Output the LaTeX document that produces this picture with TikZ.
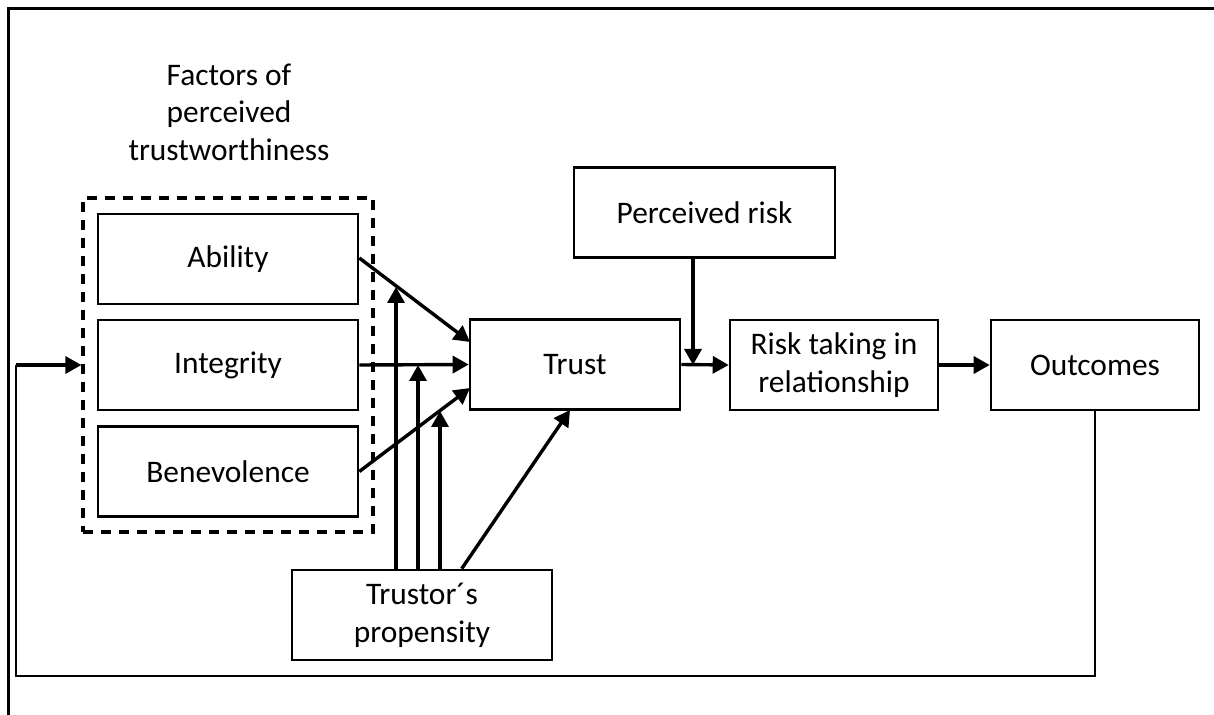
\documentclass[tikz,border=0pt]{standalone}
\usepackage{fontspec}
\setmainfont{Carlito}
\usetikzlibrary{arrows.meta,calc}
\begin{document}
\begin{tikzpicture}[x=0.5pt,y=-0.5pt,
  every node/.style={font=\fontsize{15.7}{19}\selectfont, align=center, inner sep=0pt},
  box/.style={draw, line width=1.3pt, minimum width=#1},
  box/.default=130pt,
  tall/.style={minimum height=45pt},
  conn/.style={line width=1.7pt, -{Triangle[length=8pt,width=8.5pt]}},
  loopline/.style={line width=1.2pt}]
\useasboundingbox (0,0) rectangle (1214,715);

% frame
\draw[line width=1.5pt] (8.5,715) -- (8.5,9) -- (1214,9);

% factor group
\node[font=\fontsize{15.7}{18.75}\selectfont] (title) at (229,112) {Factors of\\perceived\\trustworthiness};
\node[draw, dash pattern=on 5pt off 4pt, line width=1.6pt,
      minimum width=145pt, minimum height=167pt] (fac) at (228,365) {};
\node[box, tall] (abil) at (228,259) {Ability};
\node[box, tall] (integ) at (228,365) {Integrity};
\node[box, tall] (bene) at (228,471.5) {Benevolence};

% main chain
\node[box=105pt, tall] (trust) at (575,364.5) {Trust};
\node[box=130.5pt, tall] (risk) at (704.5,212.5) {Perceived risk};
\node[box=104pt, tall] (take) at (834,365) {Risk taking in\\relationship};
\node[box=104pt, tall] (out) at (1095,365) {Outcomes};
\node[box=130pt, tall] (prop) at (422,615) {Trustor\textasciiacute s\\propensity};

% points where the propensity arrows meet the factor arrows
\coordinate (tA) at (470,342);
\coordinate (tB) at (470,388);
\coordinate (tC) at (570,410);
\coordinate (mA) at (396,287);
\coordinate (mI) at (418,365);
\coordinate (mB) at (440,411);
\coordinate (mR) at (693,365);
\coordinate (fb1) at (1095,676);
\coordinate (fb2) at (16,676);
\coordinate (fb3) at (16,365);

% factors to trust
\draw[conn] (abil.east) ++(0,-1) -- (tA);
\draw[conn] (integ.east) -- (trust.west);
\draw[conn] (bene.east) -- (tB);

% propensity
\draw[conn] (mA |- prop.north) -- (mA);
\draw[conn] (mI |- prop.north) -- (mI);
\draw[conn] (mB |- prop.north) -- (mB);
\draw[conn] ($(prop.north west)+(171,0)$) -- (tC);

% trust to outcomes
\draw[conn] (trust.east) -- (take.west);
\draw[conn] (mR |- risk.south) -- (mR);
\draw[conn] (take.east) -- (out.west);

% feedback loop
\draw[loopline] (out.south) -- (fb1) -- (fb2) -- (fb3);
\draw[conn] (fb3) -- (fac.west);
\end{tikzpicture}
\end{document}
